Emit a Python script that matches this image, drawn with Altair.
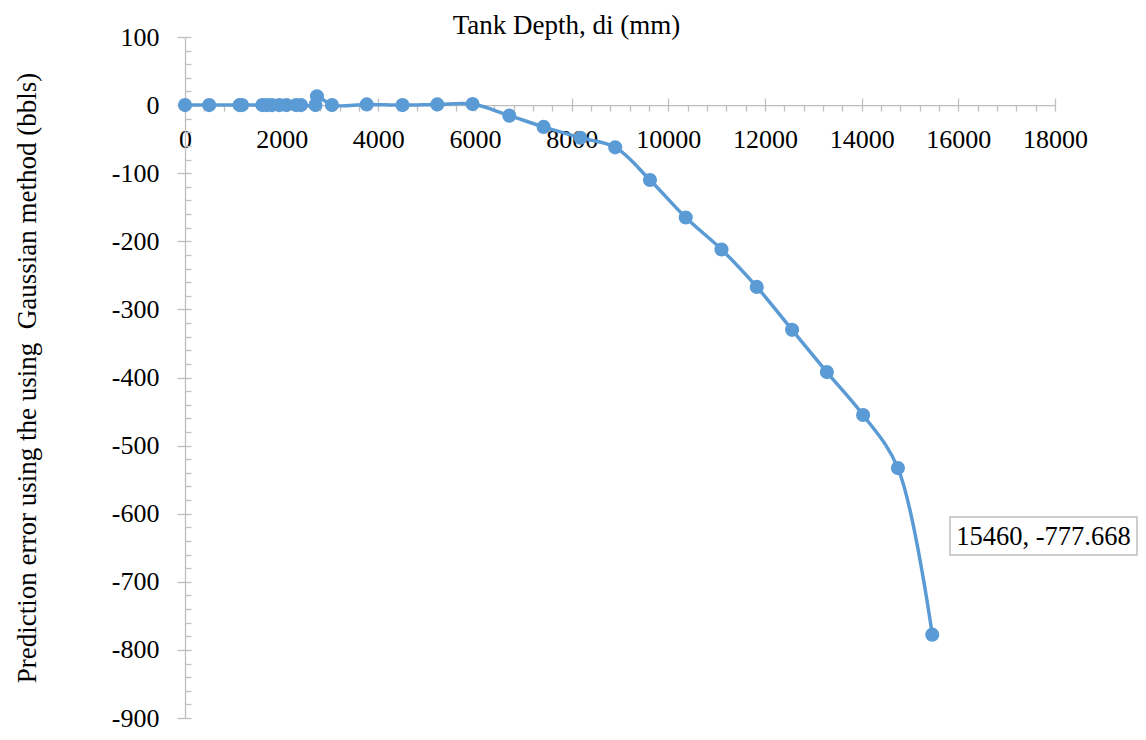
import altair as alt
import pandas as pd

# ---- data ----
depth = [0, 500, 1130, 1180, 1600, 1700, 1800, 1950, 2100, 2300, 2400, 2700, 2730,
         3040, 3760, 4500, 5220, 5950, 6710, 7420, 8180, 8900, 9620, 10360, 11100,
         11830, 12560, 13280, 14030, 14750, 15460]
error = [0, 0, 0, 0, 0, 0, 0, 0, 0, 0, 0, 0, 13,
         0, 1, 0, 1, 1.5, -15.5, -32, -48, -62, -110, -165, -212,
         -267, -330, -392, -455, -533, -777.668]

x_major = list(range(0, 18001, 2000))
x_minor = list(range(0, 18001, 400))
y_major = list(range(-900, 101, 100))
y_minor = list(range(-900, 101, 20))

x_title = "Tank Depth, di (mm)"
y_title = "Prediction error using the using\u00a0 Gaussian method (bbls)"
label_text = [f"{depth[-1]}, {error[-1]}"]

# ---- style ----
W, H = 870, 681
XMIN, XMAX = 0, 18000
YMIN, YMAX = -900, 100
zero_px = H * YMAX / (YMAX - YMIN)
BLUE = "#5B9BD5"
GRAY = "#BFBFBF"
FONT = "Liberation Serif"
FS = 26
TFS = 27

df = pd.DataFrame({"x": depth, "y": error})
lab = pd.DataFrame({"label": label_text})

x_scale = alt.Scale(domain=[XMIN, XMAX], nice=False, zero=False)
y_scale = alt.Scale(domain=[YMIN, YMAX], nice=False, zero=False)

common = dict(grid=False, tickColor=GRAY, domainColor=GRAY, tickWidth=1.3,
              domainWidth=1.3, labelFont=FONT, labelFontSize=FS, labelColor="black",
              titleFont=FONT, titleFontSize=TFS, titleColor="black",
              titleFontWeight="normal")

x_axis_major = alt.Axis(orient="top", offset=-zero_px, values=x_major, tickSize=7,
                        labels=False, title=x_title, titleX=381, titleY=-72,
                        titleAlign="center", titleBaseline="alphabetic", **common)
x_axis_minor = alt.Axis(orient="bottom", offset=-(H - zero_px), values=x_minor,
                        tickSize=6, domain=False, labelPadding=28,
                        labelBaseline="middle", labelFlush=False, labelOverlap=False,
                        labelExpr="datum.value % 2000 == 0 ? '' + datum.value : ''",
                        title=None, **common)
y_axis_major = alt.Axis(orient="left", values=y_major, tickSize=8, labelPadding=18,
                        labelExpr="'' + datum.value", labelOverlap=False,
                        title=y_title, titleX=-158, titleBaseline="middle",
                        titleAlign="center", **common)
y_axis_minor = alt.Axis(orient="right", offset=-W, values=y_minor, tickSize=6,
                        labels=False, domain=False, title=None, **common)

line = alt.Chart(df).mark_line(interpolate="catmull-rom", color=BLUE,
                               strokeWidth=3.5).encode(
    x=alt.X("x:Q", scale=x_scale, axis=x_axis_major),
    y=alt.Y("y:Q", scale=y_scale, axis=y_axis_major),
)

points = alt.Chart(df).mark_circle(size=200, opacity=1, color=BLUE).encode(
    x=alt.X("x:Q", scale=x_scale, axis=x_axis_minor),
    y=alt.Y("y:Q", scale=y_scale, axis=y_axis_minor),
)

box = alt.Chart(lab).mark_rect(fill="white", stroke=GRAY, strokeWidth=1.5).encode(
    x=alt.value(765), x2=alt.value(952), y=alt.value(480), y2=alt.value(518)
)
text = alt.Chart(lab).mark_text(font=FONT, fontSize=26.5, align="center",
                                baseline="middle", color="black").encode(
    x=alt.value(858.5), y=alt.value(500), text="label:N"
)

chart = alt.layer(line, points, box, text).resolve_axis(
    x="independent", y="independent"
).properties(
    width=W, height=H,
    autosize=alt.AutoSizeParams(type="none"),
    padding={"left": 177, "top": 29, "right": 83, "bottom": 14},
).configure_view(stroke=None)

chart.save("out.html", embed_options={"renderer": "svg", "actions": False})
